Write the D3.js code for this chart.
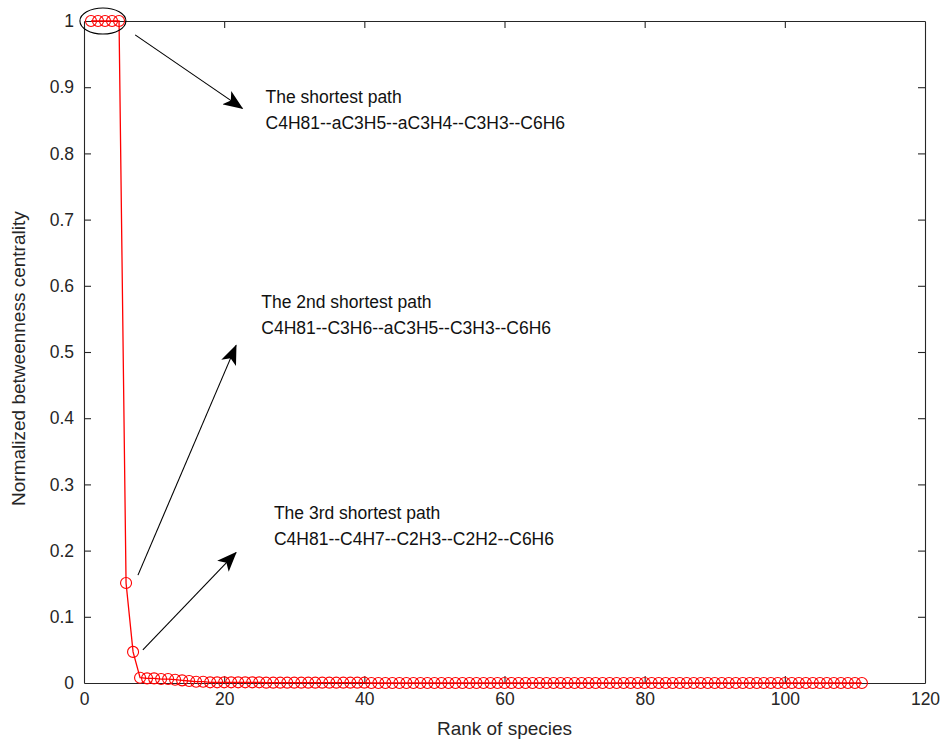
<!DOCTYPE html>
<html>
<head>
<meta charset="utf-8">
<script src="https://cdn.jsdelivr.net/npm/d3@7"></script>
<style>
  html, body { margin: 0; padding: 0; background: #fff; }
  svg { display: block; font-family: "Liberation Sans", Arial, sans-serif; }
</style>
</head>
<body>
<svg id="chart" width="944" height="742"></svg>
<script>
// Normalized betweenness centrality of species, ranked 1..111
const ranks = d3.range(1, 112);
const centrality = [
  1, 1, 1, 1, 1, 0.151, 0.047, 0.008, 0.007, 0.007,
  0.006, 0.006, 0.005, 0.004, 0.003, 0.002, 0.002, 0.001, 0.001, 0.001,
  0.001, 0.001, 0.001, 0.001, 0.001, 0.0005, 0.0005, 0.0005, 0.0005, 0.0005,
  0.0005, 0.0005, 0.0005, 0.0005, 0.0005, 0.0005, 0.0005, 0.0005, 0.0005, 0.0005,
  0, 0, 0, 0, 0, 0, 0, 0, 0, 0,
  0, 0, 0, 0, 0, 0, 0, 0, 0, 0,
  0, 0, 0, 0, 0, 0, 0, 0, 0, 0,
  0, 0, 0, 0, 0, 0, 0, 0, 0, 0,
  0, 0, 0, 0, 0, 0, 0, 0, 0, 0,
  0, 0, 0, 0, 0, 0, 0, 0, 0, 0,
  0, 0, 0, 0, 0, 0, 0, 0, 0, 0,
  0
];
const xTicks = [0, 20, 40, 60, 80, 100, 120];
const yTicks = [0, 0.1, 0.2, 0.3, 0.4, 0.5, 0.6, 0.7, 0.8, 0.9, 1];

// Path annotations: label lines, arrow start/end in data units
const annotations = [
  { lines: ["The shortest path", "C4H81--aC3H5--aC3H4--C3H3--C6H6"],
    from: [7.3, 0.979], to: [22.6, 0.868], text: [25.9, 0.876] },
  { lines: ["The 2nd shortest path", "C4H81--C3H6--aC3H5--C3H3--C6H6"],
    from: [7.7, 0.163], to: [21.7, 0.51], text: [25.3, 0.566] },
  { lines: ["The 3rd shortest path", "C4H81--C4H7--C2H3--C2H2--C6H6"],
    from: [8.4, 0.05], to: [21.7, 0.197], text: [27.1, 0.248] }
];

const svg = d3.select("#chart");
const margin = { left: 84, right: 19, top: 21, bottom: 59 };
const W = 944, H = 742;
const x = d3.scaleLinear().domain([0, 120]).range([margin.left, W - margin.right]);
const y = d3.scaleLinear().domain([0, 1]).range([H - margin.bottom, margin.top]);
const axisColor = "#262626";

// Axes with inward ticks on all four sides (boxed frame)
const gx = svg.append("g").attr("transform", `translate(0,${y(0)})`)
  .call(d3.axisBottom(x).tickValues(xTicks).tickSizeInner(-7).tickSizeOuter(0).tickPadding(10));
const gxTop = svg.append("g").attr("transform", `translate(0,${y(1)})`)
  .call(d3.axisTop(x).tickValues(xTicks).tickSizeInner(-7).tickSizeOuter(0).tickFormat(""));
const gy = svg.append("g").attr("transform", `translate(${x(0)},0)`)
  .call(d3.axisLeft(y).tickValues(yTicks).tickSizeInner(-7).tickSizeOuter(0).tickPadding(10)
    .tickFormat(d => d === 0 || d === 1 ? String(d) : d3.format(".1f")(d)));
const gyRight = svg.append("g").attr("transform", `translate(${x(120)},0)`)
  .call(d3.axisRight(y).tickValues(yTicks).tickSizeInner(-7).tickSizeOuter(0).tickFormat(""));

[gx, gxTop, gy, gyRight].forEach(g => {
  g.selectAll("path.domain").attr("stroke", axisColor).attr("stroke-width", 1.1);
  g.selectAll(".tick line").attr("stroke", axisColor).attr("stroke-width", 1.1);
  g.selectAll(".tick text").attr("fill", axisColor).style("font-size", "17.5px")
    .style("font-family", "'Liberation Sans', Arial, sans-serif");
});
// Drop end ticks that coincide with the frame
gx.selectAll(".tick").filter(d => d === 0 || d === 120).select("line").remove();
gxTop.selectAll(".tick").filter(d => d === 0 || d === 120).select("line").remove();
gy.selectAll(".tick").filter(d => d === 0 || d === 1).select("line").remove();
gyRight.selectAll(".tick").filter(d => d === 0 || d === 1).select("line").remove();

// Axis titles
svg.append("text").attr("x", x(60)).attr("y", 735).attr("text-anchor", "middle")
  .attr("fill", axisColor).style("font-size", "19px").text("Rank of species");
svg.append("text").attr("transform", `translate(25,${y(0.49)}) rotate(-90)`)
  .attr("text-anchor", "middle").attr("fill", axisColor).style("font-size", "19px")
  .text("Normalized betweenness centrality");

// Series: red line with open circle markers
const data = ranks.map((r, i) => ({ r, v: centrality[i] }));
svg.append("path").datum(data)
  .attr("fill", "none").attr("stroke", "#ff0000").attr("stroke-width", 1.3)
  .attr("d", d3.line().x(d => x(d.r)).y(d => y(d.v)));
svg.append("g").selectAll("circle").data(data).join("circle")
  .attr("cx", d => x(d.r)).attr("cy", d => y(d.v)).attr("r", 5.5)
  .attr("fill", "none").attr("stroke", "#ff0000").attr("stroke-width", 1.1);

// Ellipse around the top-ranked species
svg.append("ellipse").attr("cx", x(2.7)).attr("cy", y(1)).attr("rx", 23).attr("ry", 13)
  .attr("fill", "none").attr("stroke", "#000").attr("stroke-width", 1.1);

// Arrowhead marker
const defs = svg.append("defs");
defs.append("marker").attr("id", "head").attr("viewBox", "0 0 20 16")
  .attr("refX", 19).attr("refY", 8).attr("markerWidth", 20).attr("markerHeight", 16)
  .attr("markerUnits", "userSpaceOnUse").attr("orient", "auto")
  .append("path").attr("d", "M0,0 L20,8 L0,16 L5,8 Z").attr("fill", "#000");

const ann = svg.append("g");
annotations.forEach(a => {
  ann.append("line")
    .attr("x1", x(a.from[0])).attr("y1", y(a.from[1]))
    .attr("x2", x(a.to[0])).attr("y2", y(a.to[1]))
    .attr("stroke", "#000").attr("stroke-width", 1.1).attr("marker-end", "url(#head)");
  const t = ann.append("text").attr("x", x(a.text[0])).attr("y", y(a.text[1]))
    .attr("fill", "#111").style("font-size", "17.5px");
  a.lines.forEach((l, i) => t.append("tspan").attr("x", x(a.text[0])).attr("dy", i ? 26 : 0).text(l));
});
</script>
</body>
</html>
